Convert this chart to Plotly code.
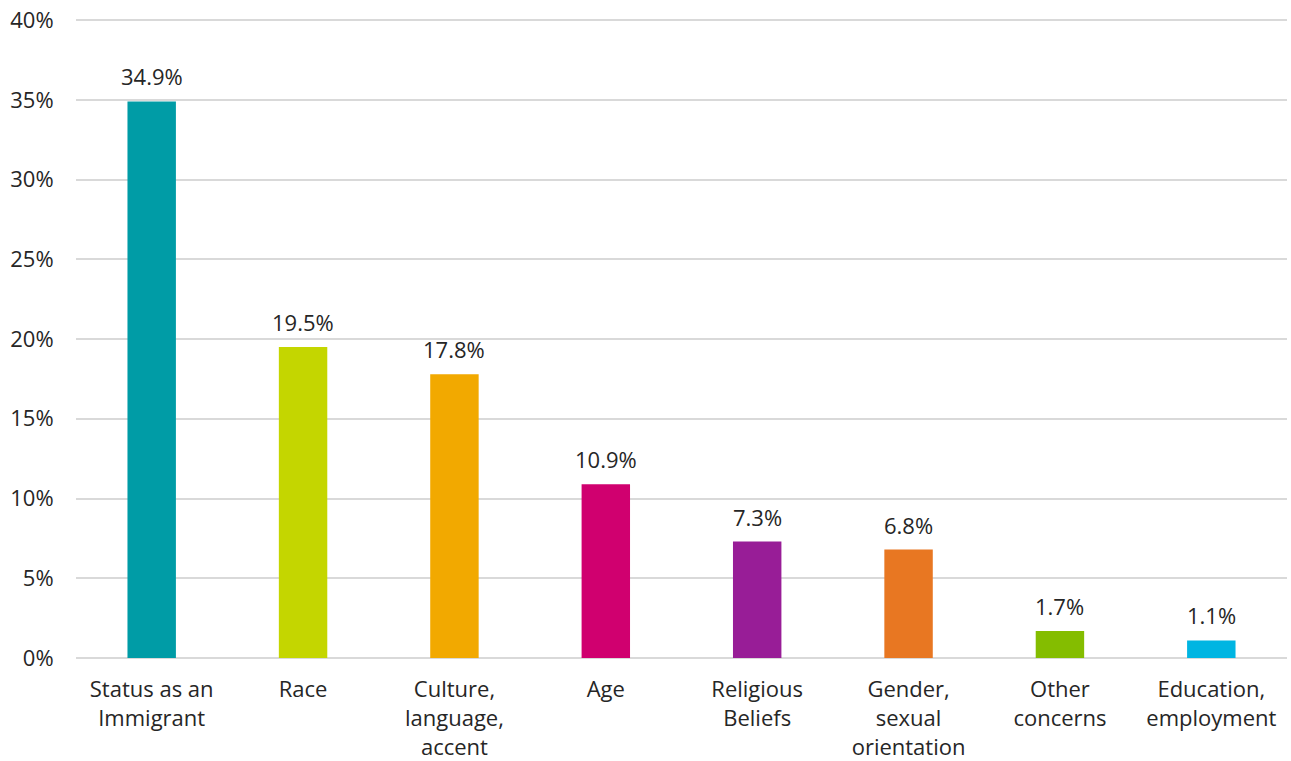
"""Bar chart: reasons for discrimination experienced."""

import plotly.graph_objects as go

categories = [
    "Status as an<br>Immigrant",
    "Race",
    "Culture,<br>language,<br>accent",
    "Age",
    "Religious<br>Beliefs",
    "Gender,<br>sexual<br>orientation",
    "Other<br>concerns",
    "Education,<br>employment",
]
values = [34.9, 19.5, 17.8, 10.9, 7.3, 6.8, 1.7, 1.1]
colours = [
    "#009CA6", "#C4D600", "#F2A900", "#D0006F",
    "#981D97", "#E87722", "#84BD00", "#00B5E2",
]
y_ticks = [0, 5, 10, 15, 20, 25, 30, 35, 40]

FONT = "'Open Sans', Lato, sans-serif"
TEXT_COLOUR = "#262626"
SIZE = 22

fig = go.Figure()
fig.add_trace(go.Bar(
    x=categories,
    y=values,
    marker_color=colours,
    marker_line_width=0,
    width=0.32,
    showlegend=False,
))

# value labels sit a little higher above the bars than plotly's own outside text
for cat, v in zip(categories, values):
    fig.add_annotation(
        x=cat, y=v, text=f"{v:.1f}%",
        showarrow=False, yanchor="bottom", yshift=8,
        font=dict(size=SIZE, color=TEXT_COLOUR, family=FONT),
    )

fig.update_layout(
    width=1291,
    height=761,
    margin=dict(l=76, r=4, t=19, b=103),
    plot_bgcolor="white",
    paper_bgcolor="white",
    font=dict(family=FONT, size=SIZE, color=TEXT_COLOUR),
)
fig.update_xaxes(
    automargin=False,
    showgrid=False,
    showline=False,
    ticks="outside",
    ticklen=12,
    tickcolor="rgba(0,0,0,0)",
    tickfont=dict(size=SIZE, color=TEXT_COLOUR),
)
fig.update_yaxes(
    automargin=False,
    range=[0, 40.07],  # a hair over 40 so the top tick and gridline are kept
    tickvals=y_ticks,
    ticktext=[f"{t}%" for t in y_ticks],
    ticklabeloverflow="allow",
    showgrid=True,
    gridcolor="#D9D9D9",
    gridwidth=1.5,
    zeroline=True,
    zerolinecolor="#D9D9D9",
    zerolinewidth=1.5,
    ticks="outside",
    ticklen=17,
    tickcolor="rgba(0,0,0,0)",
    tickfont=dict(size=SIZE, color=TEXT_COLOUR),
)

# drop the default 8px body margin so the figure fills the window exactly
fig.write_html(
    "out.html",
    config={"displayModeBar": False},
    post_script="document.body.style.margin = '0';",
)
